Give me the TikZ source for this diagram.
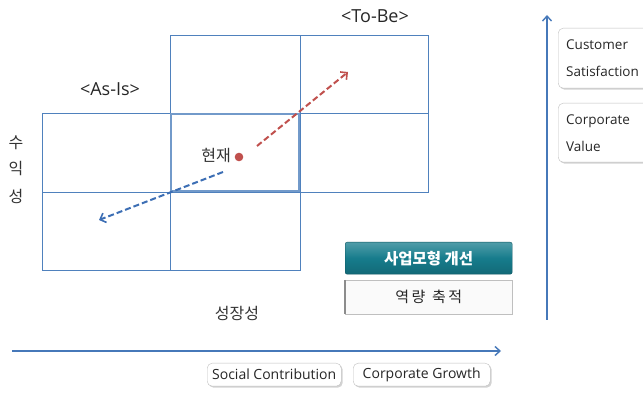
\documentclass[tikz,border=0pt]{standalone}
\usepackage{fontspec}
\setmainfont{Open Sans}
\newfontfamily\kr{Noto Sans CJK KR}
\usetikzlibrary{arrows.meta,shadows}
\definecolor{gridblue}{RGB}{79,129,189}
\definecolor{axisblue}{RGB}{70,120,185}
\definecolor{dred}{RGB}{192,80,77}
\definecolor{dblue}{RGB}{60,110,180}
\definecolor{teal1}{RGB}{22,124,140}
\tikzset{
  cell/.style={draw=gridblue, line width=0.9pt},
  label/.style={font=\fontsize{18}{20}\selectfont, inner sep=0pt, text=black!85},
  krlabel/.style={font=\kr\fontsize{16}{18}\selectfont, text=black!80, inner sep=0pt},
  axis/.style={draw=axisblue, line width=1.6pt, -{Straight Barb[length=5pt,width=9pt,line width=1.4pt]}},
  trend/.style={dashed, dash pattern=on 6pt off 3pt, line width=2pt, -{Straight Barb[length=5pt,width=10pt,line width=1.6pt]}},
  tag/.style={draw=black!25, fill=white, rounded corners=5pt, drop shadow={shadow xshift=1.5pt, shadow yshift=-1.5pt, opacity=0.35}, font=\fontsize{14}{16}\selectfont, text=black!85},
}
\begin{document}
\begin{tikzpicture}[x=1pt,y=-1pt]
\useasboundingbox (0,0) rectangle (643,395);
% grid
\draw[cell] (170,35) rectangle (300,113);
\draw[cell] (300,35) rectangle (428,113);
\draw[cell] (42,113) rectangle (170,192);
\draw[cell] (300,113) rectangle (428,192);
\draw[cell] (42,192) rectangle (170,270);
\draw[cell] (170,192) rectangle (300,270);
\draw[cell, line width=1.6pt, draw=gridblue!80] (171,114) rectangle (299,191);
\node[label] (tobe) at (375,16) {<To-Be>};
\node[label] (asis) at (110,89) {<As-Is>};
\node[krlabel] (su) at (16,143) {수};
\node[krlabel] (ik) at (16,169) {익};
\node[krlabel] (seong) at (16,196) {성};
\node[krlabel] (growth) at (237,313) {성장성};
\node[krlabel] (now) at (216,156) {현재};
\fill[dred] (239,157) circle (4.3pt);
\coordinate (dot) at (239,157);
% trend arrows
\coordinate (rs) at (257,146);
\coordinate (re) at (348,72);
\coordinate (bs) at (223,172);
\coordinate (be) at (99,220);
\draw[trend, dred] (rs) -- (re);
\draw[trend, dblue] (bs) -- (be);
% axes
\coordinate (hx0) at (12,351);
\coordinate (hx1) at (501,351);
\coordinate (vy0) at (547,320);
\coordinate (vy1) at (547,15);
\draw[axis] (hx0) -- (hx1);
\draw[axis] (vy0) -- (vy1);
% right tags
\node[tag, anchor=north west, minimum width=100pt, minimum height=60pt, align=left, text width=90pt, inner xsep=8pt, font=\fontsize{13.5}{27}\selectfont] (cs) at (558,28) {Customer\\Satisfaction};
\node[tag, anchor=north west, minimum width=100pt, minimum height=59pt, align=left, text width=90pt, inner xsep=8pt, font=\fontsize{13.5}{27}\selectfont] (cv) at (558,103) {Corporate\\Value};
% bottom tags
\node[tag, anchor=north west, minimum width=134pt, minimum height=23pt, inner sep=0pt] (sc) at (207,363) {Social Contribution};
\node[tag, anchor=north west, minimum width=137pt, minimum height=23pt, inner sep=0pt] (cg) at (353,363) {Corporate Growth};
% teal and light boxes
\node[anchor=north west, minimum width=167pt, minimum height=32pt, inner sep=0pt, rounded corners=2pt, draw=teal1!70!black, top color=teal1!75!white, bottom color=teal1!85!black, middle color=teal1, text=white, font=\kr\bfseries\fontsize{15.5}{17}\selectfont] (biz) at (345,242) {사업모형 개선};
\node[anchor=north west, minimum width=167pt, minimum height=34pt, inner sep=0pt, draw=black!25, fill=black!2, font=\kr\fontsize{15}{17}\selectfont, text=black!85, drop shadow={shadow xshift=1pt, shadow yshift=-1pt, opacity=0.25}] (cap) at (345,280) {역\,량\;\,축\,적};
\draw[black!45, line width=1.2pt] (cap.north west) -- (cap.south west);
\end{tikzpicture}
\end{document}
